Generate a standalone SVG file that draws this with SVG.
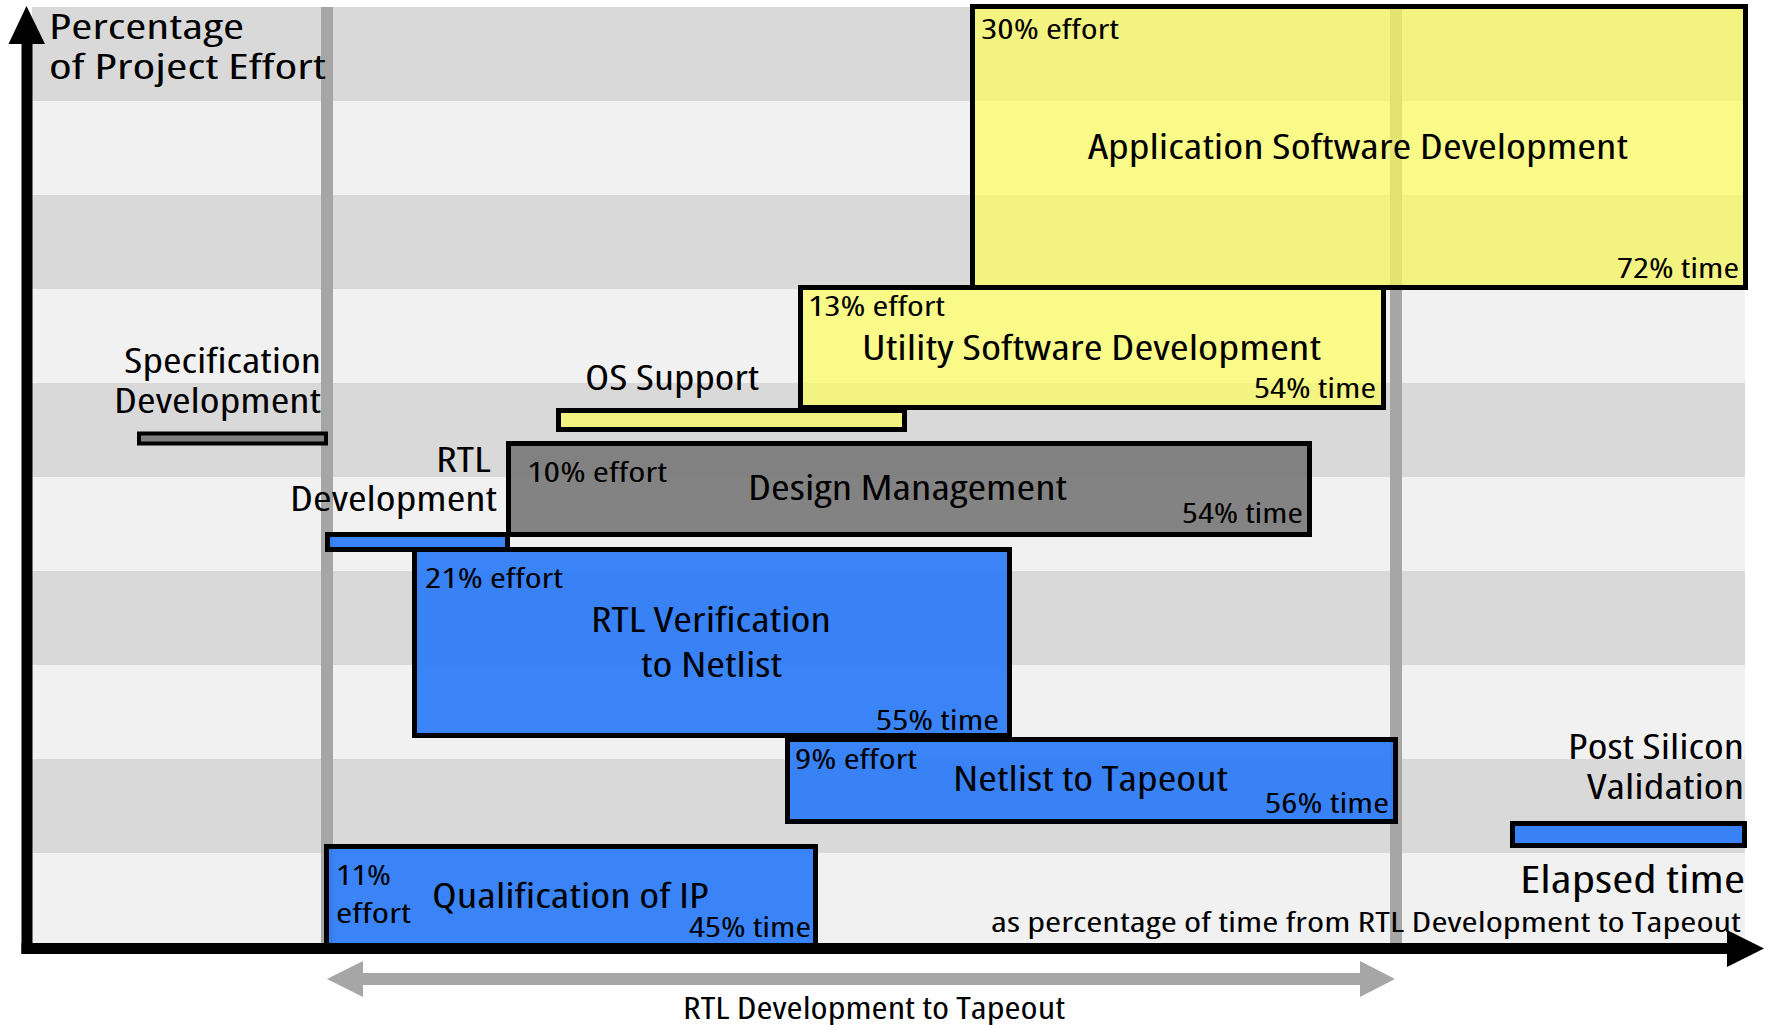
<svg xmlns="http://www.w3.org/2000/svg" width="1766" height="1025" viewBox="0 0 1766 1025">
  <style>
    .band-light { fill: #f1f1f1; }
    .band-dark { fill: #d9d9d9; }
    .mark { fill: #a6a6a6; }
    .axis { fill: #000; }
    .box { stroke: #000; stroke-width: 5; stroke-linejoin: miter; }
    .yellow { fill: #fefe5b; fill-opacity: 0.7; }
    .blue { fill: #2a7bf7; fill-opacity: 0.92; }
    .gray { fill: #7a7a7a; fill-opacity: 0.92; }
    .bar-gray { fill: #808080; }
    text { font-family: "Open Sans", "Liberation Sans", sans-serif; font-weight: 500; font-stretch: condensed; fill: #000; }
    .title { font-size: 34px; }
    .lbl { font-size: 27px; }
  </style>

  <rect width="1766" height="1025" fill="#ffffff"/>

  <!-- alternating horizontal bands -->
  <g id="bands">
    <rect class="band-light" x="32" y="7" width="1713" height="940"/>
    <rect class="band-dark" x="32" y="7" width="1713" height="94"/>
    <rect class="band-dark" x="32" y="195" width="1713" height="94"/>
    <rect class="band-dark" x="32" y="383" width="1713" height="94"/>
    <rect class="band-dark" x="32" y="571" width="1713" height="94"/>
    <rect class="band-dark" x="32" y="759" width="1713" height="94"/>
  </g>

  <!-- RTL start and tapeout markers -->
  <g id="markers">
    <rect class="mark" x="321" y="7" width="12" height="940"/>
    <rect class="mark" x="1390" y="7" width="12" height="940"/>
  </g>

  <g id="spec-dev">
    <rect class="box bar-gray" x="139" y="433.5" width="187" height="10" style="stroke-width:4"/>
    <text class="title" x="124" y="373" textLength="197" lengthAdjust="spacingAndGlyphs">Specification</text>
    <text class="title" x="114" y="413" textLength="207" lengthAdjust="spacingAndGlyphs">Development</text>
  </g>

  <g id="app-sw">
    <rect class="box yellow" x="972.5" y="6.5" width="773" height="281"/>
    <text class="lbl" x="981" y="39" textLength="138" lengthAdjust="spacingAndGlyphs">30% effort</text>
    <text class="title" x="1088" y="159" textLength="540" lengthAdjust="spacingAndGlyphs">Application Software Development</text>
    <text class="lbl" x="1617" y="278" textLength="122" lengthAdjust="spacingAndGlyphs">72% time</text>
  </g>

  <g id="utility-sw">
    <rect class="box yellow" x="800.5" y="287.5" width="583" height="120"/>
    <text class="lbl" x="808" y="316" textLength="137" lengthAdjust="spacingAndGlyphs">13% effort</text>
    <text class="title" x="862" y="360" textLength="459" lengthAdjust="spacingAndGlyphs">Utility Software Development</text>
    <text class="lbl" x="1254" y="398" textLength="122" lengthAdjust="spacingAndGlyphs">54% time</text>
  </g>

  <g id="os-support">
    <rect class="box yellow" x="558.5" y="410.5" width="346" height="19"/>
    <text class="title" x="585" y="390" textLength="174" lengthAdjust="spacingAndGlyphs">OS Support</text>
  </g>

  <g id="design-mgmt">
    <rect class="box gray" x="508.5" y="443.5" width="801" height="91"/>
    <text class="lbl" x="527" y="482" textLength="140" lengthAdjust="spacingAndGlyphs">10% effort</text>
    <text class="title" x="748" y="500" textLength="319" lengthAdjust="spacingAndGlyphs">Design Management</text>
    <text class="lbl" x="1182" y="523" textLength="121" lengthAdjust="spacingAndGlyphs">54% time</text>
  </g>

  <g id="rtl-dev">
    <rect class="box blue" x="327.5" y="534.5" width="180" height="15"/>
    <text class="title" x="436" y="472" textLength="55" lengthAdjust="spacingAndGlyphs">RTL</text>
    <text class="title" x="290" y="511" textLength="207" lengthAdjust="spacingAndGlyphs">Development</text>
  </g>

  <g id="rtl-verif">
    <rect class="box blue" x="414.5" y="549.5" width="595" height="186"/>
    <text class="lbl" x="425" y="588" textLength="138" lengthAdjust="spacingAndGlyphs">21% effort</text>
    <text class="title" x="591" y="632" textLength="240" lengthAdjust="spacingAndGlyphs">RTL Verification</text>
    <text class="title" x="641" y="677" textLength="141" lengthAdjust="spacingAndGlyphs">to Netlist</text>
    <text class="lbl" x="876" y="730" textLength="123" lengthAdjust="spacingAndGlyphs">55% time</text>
  </g>

  <g id="netlist-tapeout">
    <rect class="box blue" x="787.5" y="739.5" width="608" height="82"/>
    <text class="lbl" x="795" y="769" textLength="122" lengthAdjust="spacingAndGlyphs">9% effort</text>
    <text class="title" x="953" y="791" textLength="275" lengthAdjust="spacingAndGlyphs">Netlist to Tapeout</text>
    <text class="lbl" x="1265" y="813" textLength="124" lengthAdjust="spacingAndGlyphs">56% time</text>
  </g>

  <g id="qual-ip">
    <rect class="box blue" x="326.5" y="846.5" width="489" height="100"/>
    <text class="lbl" x="336" y="885" textLength="55" lengthAdjust="spacingAndGlyphs">11%</text>
    <text class="lbl" x="336" y="923" textLength="75" lengthAdjust="spacingAndGlyphs">effort</text>
    <text class="title" x="432" y="908" textLength="277" lengthAdjust="spacingAndGlyphs">Qualification of IP</text>
    <text class="lbl" x="689" y="937" textLength="122" lengthAdjust="spacingAndGlyphs">45% time</text>
  </g>

  <g id="post-silicon">
    <rect class="box blue" x="1512.5" y="823.5" width="232" height="22"/>
    <text class="title" x="1568" y="759" textLength="176" lengthAdjust="spacingAndGlyphs">Post Silicon</text>
    <text class="title" x="1587" y="799" textLength="157" lengthAdjust="spacingAndGlyphs">Validation</text>
  </g>

  <!-- axes and span arrow -->
  <g id="connectors">
    <rect class="axis" x="21.5" y="40" width="11" height="914"/>
    <polygon class="axis" points="26.5,6 8.5,44 45,44"/>
    <rect class="axis" x="21.5" y="943" width="1710" height="11"/>
    <polygon class="axis" points="1727,930 1764,948.5 1727,967"/>
    <rect class="mark" x="360" y="973" width="1003" height="12"/>
    <polygon class="mark" points="327,979 363,961 363,997"/>
    <polygon class="mark" points="1395,979 1360,961 1360,997"/>
  </g>

  <g id="axis-labels">
    <text class="title" x="49" y="39" textLength="195" lengthAdjust="spacingAndGlyphs">Percentage</text>
    <text class="title" x="49" y="79" textLength="277" lengthAdjust="spacingAndGlyphs">of Project Effort</text>
    <text x="1520" y="893" style="font-size:39px" textLength="225" lengthAdjust="spacingAndGlyphs">Elapsed time</text>
    <text class="lbl" x="991" y="932" textLength="750" lengthAdjust="spacingAndGlyphs">as percentage of time from RTL Development to Tapeout</text>
    <text x="683" y="1019" style="font-size:31px" textLength="382" lengthAdjust="spacingAndGlyphs">RTL Development to Tapeout</text>
  </g>
</svg>
